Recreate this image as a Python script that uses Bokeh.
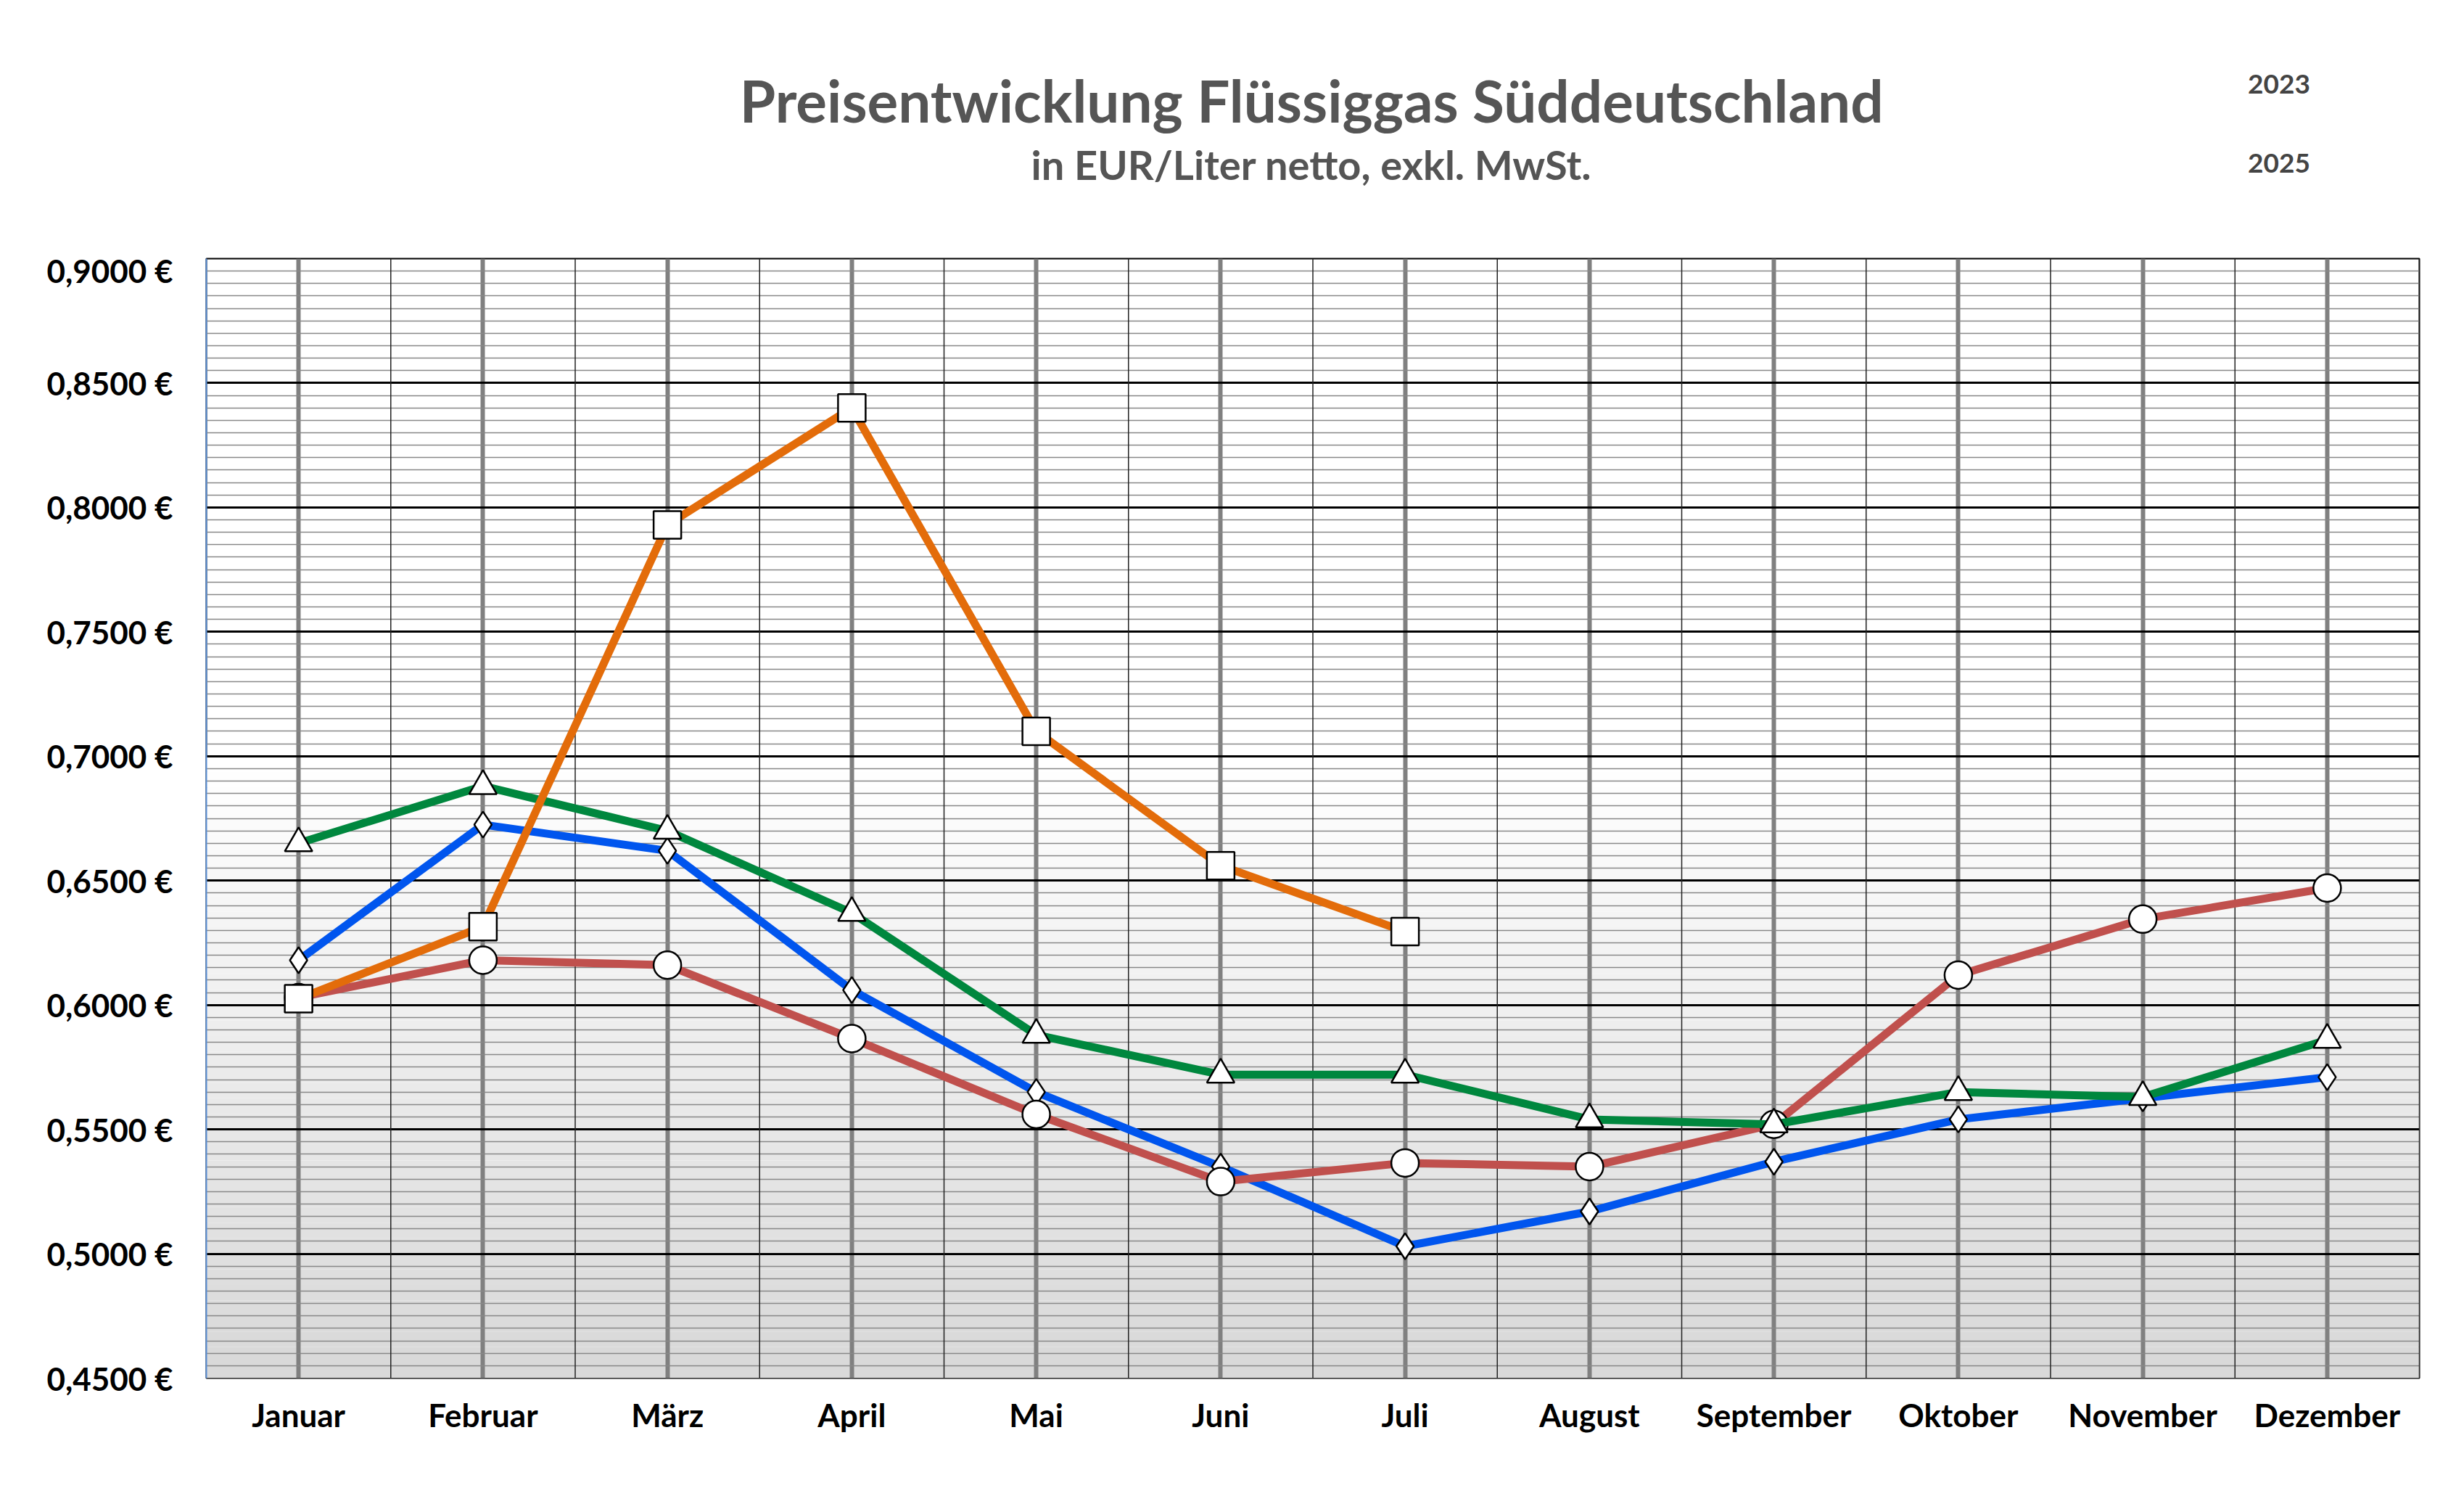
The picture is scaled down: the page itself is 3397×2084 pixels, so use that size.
from bokeh.plotting import figure
from bokeh.layouts import column
from bokeh.models import (Legend, LegendItem, FixedTicker, CustomJSTickFormatter, Span, Range1d)
from bokeh.core.properties import value
from bokeh.embed import file_html
from bokeh.resources import INLINE
import numpy as np

months = ["Januar","Februar","März","April","Mai","Juni","Juli","August","September","Oktober","November","Dezember"]
y2023 = [0.618,0.6725,0.662,0.606,0.565,0.535,0.503,0.517,0.537,0.554,0.5625,0.571]
y2024 = [0.603,0.618,0.616,0.5865,0.556,0.529,0.5365,0.535,0.552,0.612,0.6345,0.647]
y2025 = [0.665,0.688,0.670,0.637,0.588,0.572,0.572,0.554,0.552,0.565,0.563,0.586]
y2026 = [0.6025,0.6315,0.793,0.840,0.710,0.656,0.6295]

FONT = "Lato"
W = 3380
TOP_H = 346
MAIN_H = 2066 - TOP_H

series = [("2023", y2023, "#0055ee", "diamond", 36),
          ("2024", y2024, "#c0504d", "circle", 38),
          ("2025", y2025, "#00873e", "triangle", 38),
          ("2026", y2026, "#e36c0a", "square", 38)]

# ---- header figure (titles + legend)
top = figure(width=W, height=TOP_H, output_backend="svg", toolbar_location=None,
             x_range=Range1d(0, W), y_range=Range1d(0, TOP_H),
             min_border=0, min_border_left=0, min_border_right=0, min_border_top=0, min_border_bottom=0)
top.axis.visible = False
top.grid.visible = False
top.outline_line_color = None
top.text(x=[1688], y=[209], text=["Preisentwicklung Flüssiggas Süddeutschland"],
         text_font=value(FONT), text_font_size="80px", text_font_style="bold",
         text_color="#555555", text_align="center", text_baseline="middle")
top.text(x=[1688], y=[120], text=["in EUR/Liter netto, exkl. MwSt."],
         text_font=value(FONT), text_font_size="56px", text_font_style="bold",
         text_color="#555555", text_align="center", text_baseline="middle")
titems = {}
for name, ys, c, mk, sz in series:
    l = top.line([], [], line_color=c, line_width=11)
    s = top.scatter([], [], marker=mk, size=26, fill_color="white", line_color="black", line_width=2.5)
    titems[name] = LegendItem(label=name, renderers=[l, s])
common = dict(label_text_font=FONT, label_text_font_size="37px", label_text_font_style="bold",
              glyph_width=100, glyph_height=40, spacing=64, padding=0, margin=0,
              label_standoff=4, background_fill_alpha=0, border_line_color=None)
top.add_layout(Legend(items=[titems["2023"], titems["2025"]], location=(2711, 100), **common), "center")
top.add_layout(Legend(items=[titems["2024"], titems["2026"]], location=(3079, 100), **common), "center")

# ---- main chart
p = figure(width=W, height=MAIN_H, output_backend="svg", toolbar_location=None,
           x_range=Range1d(-0.5, 11.5), y_range=Range1d(0.45, 0.90),
           min_border_left=284, min_border_right=45, min_border_top=10, min_border_bottom=167)
p.title.visible = False

n = 40
edges = np.linspace(0.45, 0.70, n + 1)
cols = []
for i in range(n):
    t = i / (n - 1)
    v = int(217 + (255 - 217) * t)
    cols.append("#%02x%02x%02x" % (v, v, v))
p.quad(left=-0.5, right=11.5, bottom=edges[:-1], top=edges[1:], fill_color=cols, line_color=None, level="image")

p.ygrid.grid_line_color = "black"; p.ygrid.grid_line_width = 3
p.ygrid.minor_grid_line_color = "#888888"; p.ygrid.minor_grid_line_width = 1.5
p.yaxis.ticker = FixedTicker(ticks=[round(0.45 + 0.05 * i, 2) for i in range(10)],
                             minor_ticks=[round(0.45 + 0.005 * i, 3) for i in range(91)])
p.yaxis.formatter = CustomJSTickFormatter(code="return tick.toFixed(4).replace('.', ',') + ' €';")
p.xaxis.ticker = FixedTicker(ticks=list(range(12)))
p.xaxis.major_label_overrides = {i: m for i, m in enumerate(months)}
p.xgrid.grid_line_color = "#808080"; p.xgrid.grid_line_width = 6
for i in range(12):
    p.add_layout(Span(location=i + 0.5, dimension="height", line_color="#222222", line_width=1.5, level="underlay"))
for ax in (p.xaxis, p.yaxis):
    ax.major_tick_line_color = None
    ax.minor_tick_line_color = None
    ax.major_label_text_font = FONT
    ax.major_label_text_font_style = "bold"
    ax.major_label_text_font_size = "44px"
    ax.major_label_text_color = "black"
p.xaxis.axis_line_color = None
p.yaxis.axis_line_color = "#5b8fd6"; p.yaxis.axis_line_width = 2
p.xaxis.major_label_standoff = 18
p.yaxis.major_label_standoff = 40
p.outline_line_color = "black"; p.outline_line_width = 2

for name, ys, c, mk, sz in series:
    xs = list(range(len(ys)))
    p.line(xs, ys, line_color=c, line_width=11)
    p.scatter(xs, ys, marker=mk, size=sz, fill_color="white", line_color="black", line_width=2.5)

layout = column(top, p, spacing=0)
open("out.html", "w").write(file_html(layout, INLINE))
